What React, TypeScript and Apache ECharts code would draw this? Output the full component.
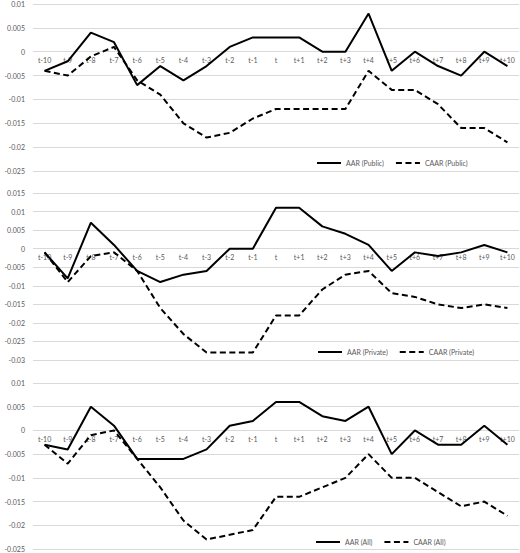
import React, { useEffect, useRef } from "react";
import * as echarts from "echarts";

// Event window
const categories = [
  "t-10", "t-9", "t-8", "t-7", "t-6", "t-5", "t-4", "t-3", "t-2", "t-1", "t",
  "t+1", "t+2", "t+3", "t+4", "t+5", "t+6", "t+7", "t+8", "t+9", "t+10",
];

// Public firms
const aarPublic = [
  -0.004, -0.002, 0.004, 0.002, -0.007, -0.003, -0.006, -0.003, 0.001, 0.003, 0.003,
  0.003, 0, 0, 0.008, -0.004, 0, -0.003, -0.005, 0, -0.003,
];
const caarPublic = [
  -0.004, -0.005, -0.001, 0.001, -0.006, -0.009, -0.015, -0.018, -0.017, -0.014, -0.012,
  -0.012, -0.012, -0.012, -0.004, -0.008, -0.008, -0.011, -0.016, -0.016, -0.019,
];

// Private firms
const aarPrivate = [
  -0.001, -0.008, 0.007, 0.001, -0.006, -0.009, -0.007, -0.006, 0, 0, 0.011,
  0.011, 0.006, 0.004, 0.001, -0.006, -0.001, -0.002, -0.001, 0.001, -0.001,
];
const caarPrivate = [
  -0.001, -0.009, -0.002, -0.001, -0.006, -0.016, -0.023, -0.028, -0.028, -0.028, -0.018,
  -0.018, -0.011, -0.007, -0.006, -0.012, -0.013, -0.015, -0.016, -0.015, -0.016,
];

// All firms
const aarAll = [
  -0.003, -0.004, 0.005, 0.001, -0.006, -0.006, -0.006, -0.004, 0.001, 0.002, 0.006,
  0.006, 0.003, 0.002, 0.005, -0.005, 0, -0.003, -0.003, 0.001, -0.003,
];
const caarAll = [
  -0.003, -0.007, -0.001, 0, -0.006, -0.012, -0.019, -0.023, -0.022, -0.021, -0.014,
  -0.014, -0.012, -0.01, -0.005, -0.01, -0.01, -0.013, -0.016, -0.015, -0.018,
];

// Value axis ranges per panel: [min, max]
const yRanges = [
  [-0.025, 0.01],
  [-0.03, 0.015],
  [-0.025, 0.01],
];

const panels = [
  { aarName: "AAR (Public)", caarName: "CAAR (Public)", aar: aarPublic, caar: caarPublic },
  { aarName: "AAR (Private)", caarName: "CAAR (Private)", aar: aarPrivate, caar: caarPrivate },
  { aarName: "AAR (All)", caarName: "CAAR (All)", aar: aarAll, caar: caarAll },
];

const FONT = "Lato, 'Liberation Sans', sans-serif";
const TEXT = "#595959";
const GRID_LINE = "#d9d9d9";

export default function App() {
  const ref = useRef<HTMLDivElement>(null);

  useEffect(() => {
    if (!ref.current) return;
    const chart = echarts.init(ref.current, undefined, { renderer: "svg" });

    const grids = [
      { left: 33, right: 1, top: 4, height: 167 },
      { left: 33, right: 1, top: 193, height: 167 },
      { left: 33, right: 1, top: 383, height: 166 },
    ];
    const legendTops = [154, 343, 533];
    const legendLefts = [311, 312, 310];

    // Lift each category axis from the bottom edge up to the value 0 line
    const zeroOffset = (i: number) => {
      const [mn, mx] = yRanges[i];
      return -grids[i].height * ((0 - mn) / (mx - mn));
    };

    const fmt = (v: number) => (Math.abs(v) < 1e-12 ? "0" : String(+v.toFixed(3)));

    const option: any = {
      animation: false,
      textStyle: { fontFamily: FONT },
      grid: grids,
      xAxis: grids.map((_, i) => ({
        type: "category",
        gridIndex: i,
        position: "bottom",
        offset: zeroOffset(i),
        data: categories,
        boundaryGap: true,
        axisLine: { show: false, onZero: false },
        axisTick: { show: false },
        axisLabel: { interval: 0, fontSize: 7, color: TEXT, margin: 5, fontFamily: FONT },
      })),
      yAxis: grids.map((_, i) => ({
        type: "value",
        gridIndex: i,
        min: yRanges[i][0],
        max: yRanges[i][1],
        interval: 0.005,
        axisLine: { show: false },
        axisTick: { show: false },
        splitLine: { show: true, lineStyle: { color: GRID_LINE, width: 1 } },
        axisLabel: { fontSize: 7, color: TEXT, margin: 8, fontFamily: FONT, formatter: fmt },
      })),
      legend: panels.map((p, i) => ({
        data: [p.aarName, p.caarName],
        left: legendLefts[i],
        top: legendTops[i],
        itemWidth: 24,
        itemHeight: 10,
        itemGap: 11,
        itemStyle: { color: "rgba(0,0,0,0)", borderWidth: 0, opacity: 0 },
        textStyle: { fontSize: 7, color: TEXT, fontFamily: FONT },
      })),
      series: panels.flatMap((p, i) => [
        {
          name: p.caarName,
          type: "line",
          xAxisIndex: i,
          yAxisIndex: i,
          data: p.caar,
          symbol: "none",
          lineStyle: { color: "#000", width: 2, type: [6, 3.5] },
          itemStyle: { color: "#000" },
        },
        {
          name: p.aarName,
          type: "line",
          xAxisIndex: i,
          yAxisIndex: i,
          data: p.aar,
          symbol: "none",
          lineStyle: { color: "#000", width: 2, type: "solid" },
          itemStyle: { color: "#000" },
        },
      ]),
    };

    chart.setOption(option);
    return () => chart.dispose();
  }, []);

  return (
    <div
      ref={ref}
      style={{ position: "absolute", left: 0, top: 0, width: 520, height: 553, background: "#fff" }}
    />
  );
}
